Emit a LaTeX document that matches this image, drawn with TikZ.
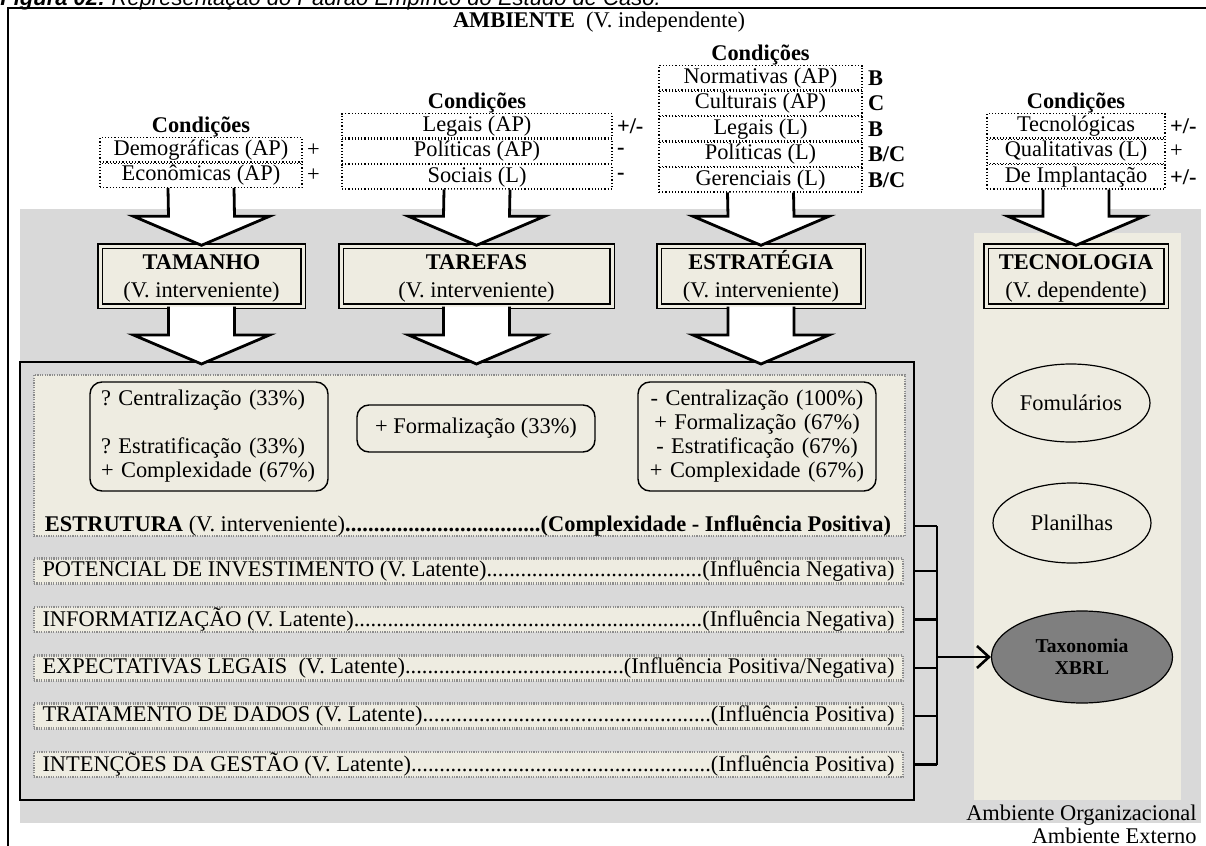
\documentclass[tikz,border=0pt]{standalone}
\usepackage{fontspec}
\setmainfont{Liberation Serif}
\newfontfamily\legendafont{Liberation Sans}
\usepackage{tikz}
\usetikzlibrary{calc,arrows.meta,positioning,shapes.geometric}
\usepackage{xcolor}
\frenchspacing

\definecolor{fundo}{HTML}{D9D9D9}
\definecolor{bege}{HTML}{EEECE1}
\definecolor{cinzaxbrl}{HTML}{7F7F7F}

\newcommand{\pontos}{\xleaders\hbox{.}\hfill}
\newcommand{\setabloco}[2]{%
  \draw[line width=1.4pt, fill=white, line join=miter]
    ($(#1)+(-3.3,0)$) -- ($(#2)+(-3.3,-2.9)$) -- ($(#2)+(-6.8,-2.9)$) -- (#2)
    -- ($(#2)+(6.8,-2.9)$) -- ($(#2)+(3.3,-2.9)$) -- ($(#1)+(3.3,0)$);}

\begin{document}
\begin{tikzpicture}[x=5pt, y=-5pt,
  every node/.append style={font=\fontsize{11.2}{13.4}\selectfont},
  cond/.style={draw, densely dotted, line width=0.6pt, fill=white, minimum height=12.15pt, inner sep=0pt},
  sinal/.style={inner sep=0pt},
  titulo/.style={font=\bfseries\fontsize{11.2}{13.4}\selectfont, inner sep=0pt},
  variavel/.style={draw, double=bege, double distance=1.5pt, line width=0.7pt, fill=bege, minimum height=30pt,
    align=center, inner sep=0pt, font=\fontsize{11.2}{14}\selectfont},
  moldura/.style={draw=black!45, line width=1.2pt, dash pattern=on 0.6pt off 0.6pt, fill=bege},
  caixa/.style={draw, line width=0.7pt, rounded corners=6pt, fill=bege, minimum width=119pt, font=\fontsize{11.2}{12}\selectfont},
  linha/.style={moldura, inner xsep=4.25pt, inner ysep=0pt, minimum height=12.5pt},
  elipse/.style={ellipse, draw, line width=0.6pt, inner sep=0pt},
  conector/.style={line width=1.3pt}]
  \useasboundingbox (0,0) rectangle (120.6,84.6);
  % area cinza e coluna da tecnologia
  \fill[fundo] (2.0,20.9) rectangle (120.1,82.3);
  \fill[bege] (97.4,23.3) rectangle (118.1,80.0);
  % legenda e moldura
  \node[anchor=base west, inner sep=0pt, font=\legendafont\itshape\fontsize{11}{13}\selectfont] (legenda) at (0,0.5)
    {\textbf{Figura 02:} Representação do Padrão Empírico do Estudo de Caso.};
  \draw[line width=1.2pt] (0.8,85) -- (0.8,0.8) -- (121,0.8);
  \node (amb) at (59.9,2.2) {\textbf{AMBIENTE}~~(V. independente)};

  % condicoes - coluna 1
  \node (demog) [cond, minimum width=101pt, anchor=north] at (20.1,13.7) {Demográficas (AP)};
  \node (econ) [cond, minimum width=101pt, below=0pt of demog] {Econômicas (AP)};
  \node[titulo, above=-0.5pt of demog] {Condições};
  \node[sinal, right=2pt of demog] {+};
  \node[sinal, right=2pt of econ] {+};
  % coluna 2
  \node (legAP) [cond, minimum width=135pt, anchor=north] at (47.7,11.3) {Legais (AP)};
  \node (polAP) [cond, minimum width=135pt, below=0pt of legAP] {Políticas (AP)};
  \node (soc) [cond, minimum width=135pt, below=0pt of polAP] {Sociais (L)};
  \node[titulo, above=-0.5pt of legAP] {Condições};
  \node[sinal, right=2pt of legAP] {\textbf{+/-}};
  \node[sinal, right=2pt of polAP] {\textbf{-}};
  \node[sinal, right=2pt of soc] {\textbf{-}};
  % coluna 3
  \node (norm) [cond, minimum width=101.5pt, anchor=north] at (76.05,6.5) {Normativas (AP)};
  \node (cult) [cond, minimum width=101.5pt, below=0pt of norm] {Culturais (AP)};
  \node (legL) [cond, minimum width=101.5pt, below=0pt of cult] {Legais (L)};
  \node (polL) [cond, minimum width=101.5pt, below=0pt of legL] {Políticas (L)};
  \node (ger) [cond, minimum width=101.5pt, below=0pt of polL] {Gerenciais (L)};
  \node[titulo, above=-0.5pt of norm] {Condições};
  \node[sinal, right=2.5pt of norm] {\textbf{B}};
  \node[sinal, right=2.5pt of cult] {\textbf{C}};
  \node[sinal, right=2.5pt of legL] {\textbf{B}};
  \node[sinal, right=2.5pt of polL] {\textbf{B/C}};
  \node[sinal, right=2.5pt of ger] {\textbf{B/C}};
  % coluna 4
  \node (tecn) [cond, minimum width=89pt, anchor=north] at (107.6,11.3) {Tecnológicas};
  \node (qual) [cond, minimum width=89pt, below=0pt of tecn] {Qualitativas (L)};
  \node (impl) [cond, minimum width=89pt, below=0pt of qual] {De Implantação};
  \node[titulo, above=-0.5pt of tecn] {Condições};
  \node[sinal, right=2pt of tecn] {\textbf{+/-}};
  \node[sinal, right=2pt of qual] {+};
  \node[sinal, right=2pt of impl] {\textbf{+/-}};

  % variaveis intervenientes
  \node (tam) [variavel, minimum width=101.5pt] at (20.15,27.6) {\textbf{\vphantom{É}TAMANHO}\\(V. interveniente)};
  \node (taref) [variavel, minimum width=135.5pt] at (47.65,27.6) {\textbf{\vphantom{É}TAREFAS}\\(V. interveniente)};
  \node (estrat) [variavel, minimum width=102pt] at (76.1,27.6) {\textbf{ESTRATÉGIA}\\(V. interveniente)};
  \node (tecnol) [variavel, minimum width=90pt] at (107.6,27.6) {\textbf{\vphantom{É}TECNOLOGIA}\\(V. dependente)};

  % estrutura
  \node (struct) [draw, line width=1pt, fill=fundo, minimum width=447pt, minimum height=219pt, inner sep=0pt] at (46.7,58.1) {};
  \node (quadro) [moldura, minimum width=435.5pt, minimum height=80.5pt, inner sep=0pt] at (46.95,45.55) {};
  \node (cx1) [caixa, text width=108pt, inner xsep=5.5pt, minimum height=54.5pt, align=left] at (20.9,43.65)
    {? Centralização (33\%)\\[12pt]? Estratificação (33\%)\\+ Complexidade (67\%)};
  \node (cx2) [caixa, minimum height=23.5pt] at (47.6,42.85) {+ Formalização (33\%)};
  \node (cx3) [caixa, text width=108pt, inner xsep=5.5pt, minimum height=54.5pt, align=center] at (75.7,43.65)
    {- Centralização (100\%)\\+ Formalização (67\%)\\- Estratificação (67\%)\\+ Complexidade (67\%)};
  \node (estr) [inner sep=0pt] at (46.8,52.6)
    {\makebox[423pt][l]{\textbf{ESTRUTURA} (V. interveniente)\textbf{\pontos(Complexidade - Influência Positiva)}}};
  \node (pot) [linha] at (46.85,57.1) {\makebox[426pt][l]{POTENCIAL DE INVESTIMENTO (V. Latente)\pontos(Influência Negativa)}};
  \node (inf) [linha] at (46.85,61.95) {\makebox[426pt][l]{INFORMATIZAÇÃO (V. Latente)\pontos(Influência Negativa)}};
  \node (expl) [linha] at (46.85,66.8) {\makebox[426pt][l]{EXPECTATIVAS LEGAIS~ (V. Latente)\pontos(Influência Positiva/Negativa)}};
  \node (trat) [linha] at (46.85,71.6) {\makebox[426pt][l]{TRATAMENTO DE DADOS (V. Latente)\pontos(Influência Positiva)}};
  \node (intg) [linha] at (46.85,76.45) {\makebox[426pt][l]{INTENÇÕES DA GESTÃO (V. Latente)\pontos(Influência Positiva)}};

  % tecnologia
  \node (form) [elipse, minimum width=79pt, minimum height=39pt] at (107.1,40.3) {Fomulários};
  \node (plan) [elipse, minimum width=79pt, minimum height=40pt] at (107.2,52.3) {Planilhas};
  \node (taxo) [elipse, fill=cinzaxbrl, minimum width=90.5pt, minimum height=46pt, align=center,
    font=\bfseries\fontsize{9.8}{11}\selectfont] at (108.2,65.7) {Taxonomia\\XBRL};

  % ligacoes
  \coordinate (bus) at (93.7,52.4);
  \foreach \lin in {estr,pot,inf,expl,trat,intg}
    \draw[conector] (\lin.east -| struct.east) -- (\lin.east -| bus);
  \draw[conector] (estr.east -| bus) -- (intg.east -| bus);
  \draw[conector, -{Straight Barb[length=6pt, width=11pt]}] (bus |- taxo.west) -- (taxo.west);

  \node[anchor=base east, inner sep=0pt] (amborg) at (119.7,82.0) {Ambiente Organizacional};
  \node[anchor=base east, inner sep=0pt] (ambext) at (119.7,84.3) {Ambiente Externo};

  % setas largas
  \setabloco{econ.south}{tam.north}
  \setabloco{soc.south}{taref.north}
  \setabloco{ger.south}{estrat.north}
  \setabloco{impl.south}{tecnol.north}
  \coordinate (p1) at ($(tam.south |- struct.north)+(0,0.3)$);
  \coordinate (p2) at ($(taref.south |- struct.north)+(0,0.3)$);
  \coordinate (p3) at ($(estrat.south |- struct.north)+(0,0.3)$);
  \setabloco{tam.south}{p1}
  \setabloco{taref.south}{p2}
  \setabloco{estrat.south}{p3}
\end{tikzpicture}
\end{document}
